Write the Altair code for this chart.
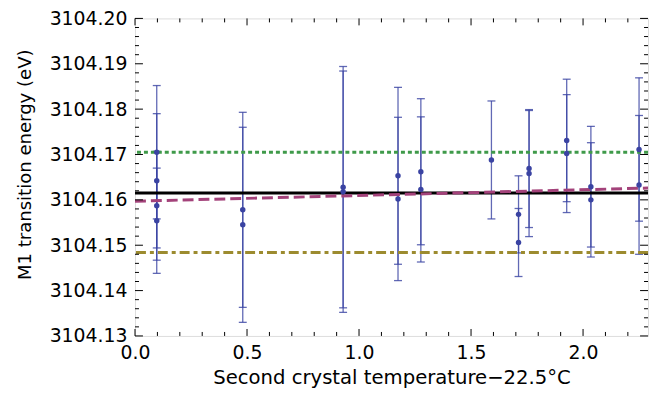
import altair as alt
import pandas as pd

# ---- data ----
temp = [0.097, 0.097, 0.097, 0.097, 0.481, 0.481, 0.929, 0.929, 1.174, 1.174,
        1.276, 1.276, 1.591, 1.712, 1.712, 1.759, 1.759, 1.927, 1.927, 2.035, 2.035,
        2.250, 2.250]
energy = [3104.1705, 3104.1642, 3104.1587, 3104.1554, 3104.1578, 3104.1545,
          3104.1628, 3104.1618, 3104.1653, 3104.1602, 3104.1662, 3104.1623,
          3104.1688, 3104.1568, 3104.1506, 3104.1669, 3104.1658, 3104.1731,
          3104.1702, 3104.1629, 3104.1600, 3104.1711, 3104.1633]
err = [0.0147, 0.0148, 0.0120, 0.0116, 0.0215, 0.0215, 0.0266, 0.0266, 0.0195,
       0.0180, 0.0161, 0.0160, 0.0130, 0.0085, 0.0075, 0.0130, 0.0139, 0.0135,
       0.0130, 0.0133, 0.0126, 0.0158, 0.0153]

mean_level = [3104.1615]
upper_level = [3104.1705]
lower_level = [3104.1484]
fit_x = [0.0, 2.29]
fit_y = [3104.1597, 3104.1626]

x_major = [0.0, 0.5, 1.0, 1.5, 2.0]
x_minor = [0.1, 0.2, 0.3, 0.4, 0.6, 0.7, 0.8, 0.9, 1.1, 1.2, 1.3, 1.4,
           1.6, 1.7, 1.8, 1.9, 2.1, 2.2]
y_major = [3104.13, 3104.14, 3104.15, 3104.16, 3104.17, 3104.18, 3104.19, 3104.20]
y_minor = [round(3104.13 + 0.002 * i, 3) for i in range(36) if i % 5 != 0]

W, H = 517, 320
FONT = "DejaVu Sans"
BLUE = "#3a43a2"

pts = pd.DataFrame({"t": temp, "E": energy, "err": err})
pts["lo"] = pts["E"] - pts["err"]
pts["hi"] = pts["E"] + pts["err"]

xs = alt.Scale(domain=[0, 2.29], nice=False, zero=False)
ys = alt.Scale(domain=[3104.13, 3104.20], nice=False, zero=False)

xax = alt.Axis(values=x_major, format=".1f", ticks=False, domain=False, grid=False,
               labelFontSize=19, labelFont=FONT, labelColor="black", labelPadding=8,
               title="Second crystal temperature\u221222.5\u00b0C", titleFont=FONT,
               titleFontSize=19.8, titleFontWeight="normal", titleColor="black",
               titlePadding=5, labelFlush=False)
yax = alt.Axis(values=y_major, format=".2f", ticks=False, domain=False, grid=False,
               labelFontSize=19, labelFont=FONT, labelColor="black", labelPadding=8,
               title="M1 transition energy (eV)", titleFont=FONT, titleFontSize=18.2,
               titleFontWeight="normal", titleColor="black", titlePadding=15,
               titleY=147, labelFlush=False)

base = alt.Chart(pts)

bars = base.mark_rule(color=BLUE, strokeWidth=1.3, opacity=0.8).encode(
    x=alt.X("t:Q", scale=xs, axis=xax),
    y=alt.Y("lo:Q", scale=ys, axis=yax),
    y2="hi:Q",
)
cap_hi = base.mark_tick(color=BLUE, orient="horizontal", size=8, thickness=1.3,
                        opacity=0.8).encode(x="t:Q", y="hi:Q")
cap_lo = base.mark_tick(color=BLUE, orient="horizontal", size=8, thickness=1.3,
                        opacity=0.8).encode(x="t:Q", y="lo:Q")

def hline(vals, color, dash=None, width=3):
    kw = dict(color=color, strokeWidth=width)
    if dash:
        kw["strokeDash"] = dash
    return alt.Chart(pd.DataFrame({"v": vals})).mark_rule(**kw).encode(y="v:Q")

green = hline(upper_level, "#3f9a4a", [4, 3])
olive = hline(lower_level, "#9c8b2f", [10, 4, 4, 4])
black = hline(mean_level, "black", None, 3)

fit = alt.Chart(pd.DataFrame({"t": fit_x, "E": fit_y})).mark_line(
    color="#a3427a", strokeWidth=3, strokeDash=[11, 5]).encode(x="t:Q", y="E:Q")

dots = base.mark_circle(color=BLUE, size=30, opacity=1).encode(x="t:Q", y="E:Q")

def xticks(vals, length):
    d = pd.DataFrame({"v": vals})
    bot = alt.Chart(d).mark_rule(color="black", strokeWidth=1).encode(
        x="v:Q", y=alt.value(H), y2=alt.value(H - length))
    top = alt.Chart(d).mark_rule(color="black", strokeWidth=1).encode(
        x="v:Q", y=alt.value(0), y2=alt.value(length))
    return [bot, top]

def yticks(vals, length):
    d = pd.DataFrame({"v": vals})
    left = alt.Chart(d).mark_rule(color="black", strokeWidth=1).encode(
        y="v:Q", x=alt.value(0), x2=alt.value(length))
    right = alt.Chart(d).mark_rule(color="black", strokeWidth=1).encode(
        y="v:Q", x=alt.value(W), x2=alt.value(W - length))
    return [left, right]

ticks = xticks(x_major, 7) + xticks(x_minor, 4) + yticks(y_major, 8) + yticks(y_minor, 4)

chart = alt.layer(
    bars, cap_hi, cap_lo, olive, green, black, fit, dots, *ticks
).properties(
    width=W, height=H,
    autosize=alt.AutoSizeParams(type="none"),
    padding={"left": 128, "top": 9, "right": 2, "bottom": 55},
).configure_view(stroke="black", strokeWidth=1.2).configure(background="white")

chart.save("out.html", embed_options={"renderer": "svg", "actions": False})
